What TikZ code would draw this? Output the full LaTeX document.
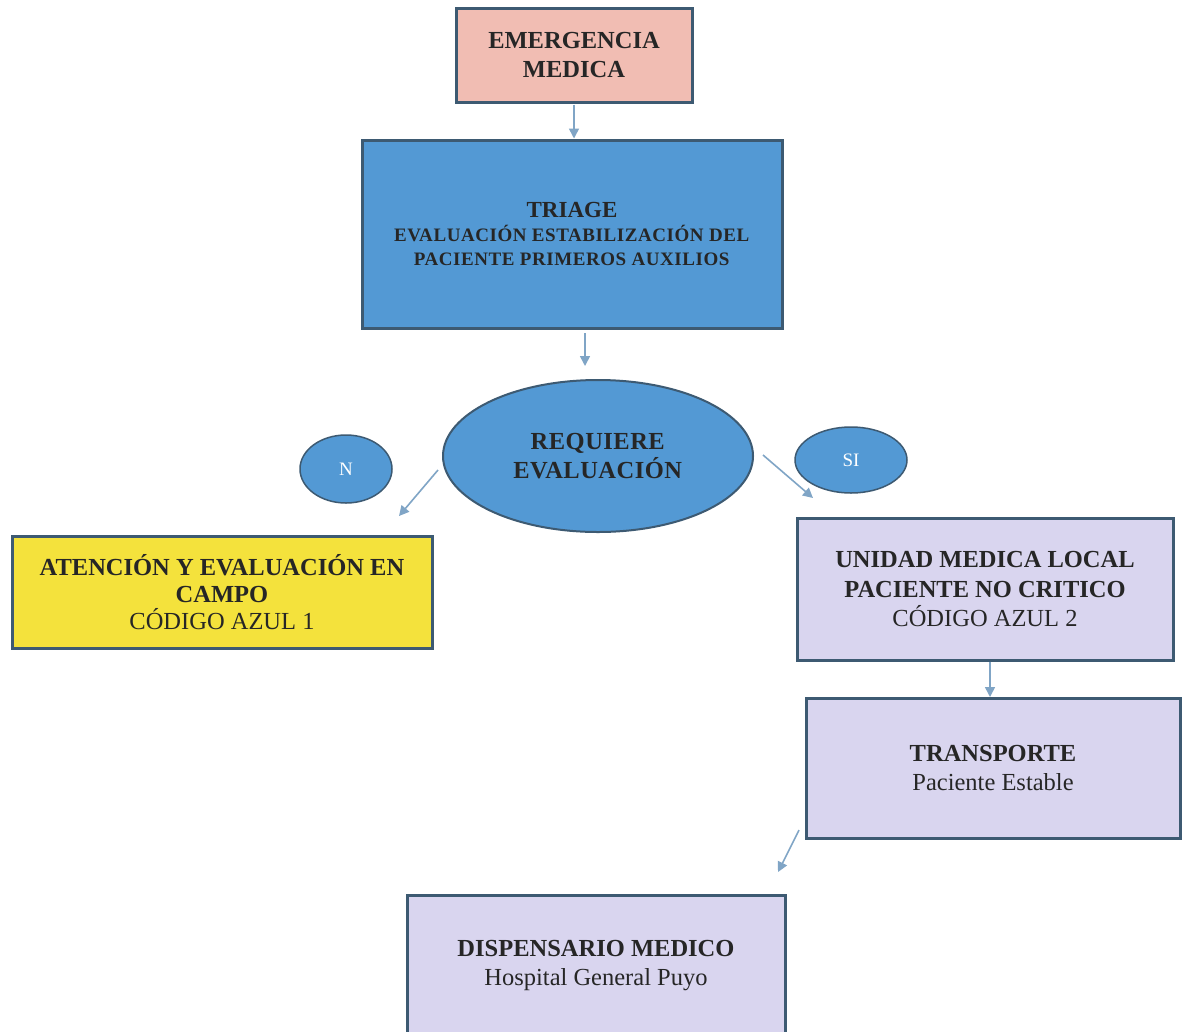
\documentclass[tikz,border=0pt]{standalone}
\usepackage{fontspec}
\setmainfont{Liberation Serif}
\usetikzlibrary{shapes.geometric,arrows.meta}
\definecolor{bordc}{HTML}{3D5A72}
\definecolor{pinkc}{HTML}{F1BDB3}
\definecolor{bluec}{HTML}{5399D4}
\definecolor{yelc}{HTML}{F4E23C}
\definecolor{lavc}{HTML}{D9D5EF}
\definecolor{arrc}{HTML}{80A5C6}
\definecolor{txtc}{HTML}{262626}
\tikzset{
  box/.style={draw=bordc, line width=3pt, align=center, text=txtc, inner sep=2pt},
  bigtxt/.style={font=\fontsize{24.5}{29}\selectfont},
  oval/.style={ellipse, draw=bordc, line width=1.5pt, fill=bluec, align=center, inner sep=0pt},
  arr/.style={draw=arrc, line width=1.6pt, -{Triangle[length=10pt,width=10pt]}}
}
\begin{document}
\begin{tikzpicture}[x=1pt,y=-1pt]
\useasboundingbox (0,0) rectangle (1182,1031);
\clip (0,0) rectangle (1182,1031);
\fill[white] (0,0) rectangle (1182,1031);

\node[box, bigtxt, fill=pinkc, minimum width=236pt, minimum height=94pt] (em) at (574,55)
  {\textbf{EMERGENCIA}\\\textbf{MEDICA}};

\node[box, fill=bluec, minimum width=420pt, minimum height=188pt,
      font=\fontsize{19}{24}\selectfont] (tri) at (572,234)
  {{\fontsize{23}{24}\selectfont\textbf{TRIAGE}}\\
   {\addfontfeature{LetterSpace=3}\textbf{EVALUACIÓN ESTABILIZACIÓN DEL}}\\
   {\addfontfeature{LetterSpace=3}\textbf{PACIENTE PRIMEROS AUXILIOS}}};

\node[oval, line width=2pt, bigtxt, text=txtc, minimum width=310pt, minimum height=152pt] (ell) at (598,456)
  {\addfontfeature{LetterSpace=2}\textbf{REQUIERE}\\\addfontfeature{LetterSpace=2}\textbf{EVALUACIÓN}};

\node[oval, minimum width=92pt, minimum height=68pt, text=white, font=\fontsize{19}{22}\selectfont] (n) at (346,469) {N};
\node[oval, minimum width=112pt, minimum height=66pt, text=white, font=\fontsize{19}{22}\selectfont] (si) at (851,460) {SI};

\node[box, bigtxt, fill=yelc, minimum width=420pt, minimum height=112pt] (yel) at (222,592)
  {\textbf{ATENCIÓN Y EVALUACIÓN EN}\\[-2pt]\textbf{CAMPO}\\[-2pt]CÓDIGO AZUL 1};

\node[box, bigtxt, fill=lavc, minimum width=376pt, minimum height=142pt] (uni) at (985,589)
  {\textbf{UNIDAD MEDICA LOCAL}\\[1pt]\textbf{PACIENTE NO CRITICO}\\CÓDIGO AZUL 2};

\node[box, bigtxt, fill=lavc, minimum width=374pt, minimum height=140pt] (tra) at (993,768)
  {\textbf{TRANSPORTE}\\Paciente Estable};

\node[box, bigtxt, fill=lavc, minimum width=378pt, minimum height=142pt] (dis) at (596,966)
  {\textbf{DISPENSARIO MEDICO}\\Hospital General Puyo};

% connectors
\draw[arr, shorten <=1pt] (em.south) -- (em.south |- tri.north);
\coordinate (t1) at (585,333);
\coordinate (t2) at (585,366);
\draw[arr] (t1) -- (t2);
\coordinate (l1) at (438,470);
\coordinate (l2) at (399,516);
\draw[arr] (l1) -- (l2);
\coordinate (r1) at (763,455);
\coordinate (r2) at (813,498);
\draw[arr] (r1) -- (r2);
\coordinate (u2) at (990,697);
\draw[arr] (uni.south -| u2) -- (u2);
\coordinate (d1) at (799,830);
\coordinate (d2) at (778,872);
\draw[arr] (d1) -- (d2);
\end{tikzpicture}
\end{document}
